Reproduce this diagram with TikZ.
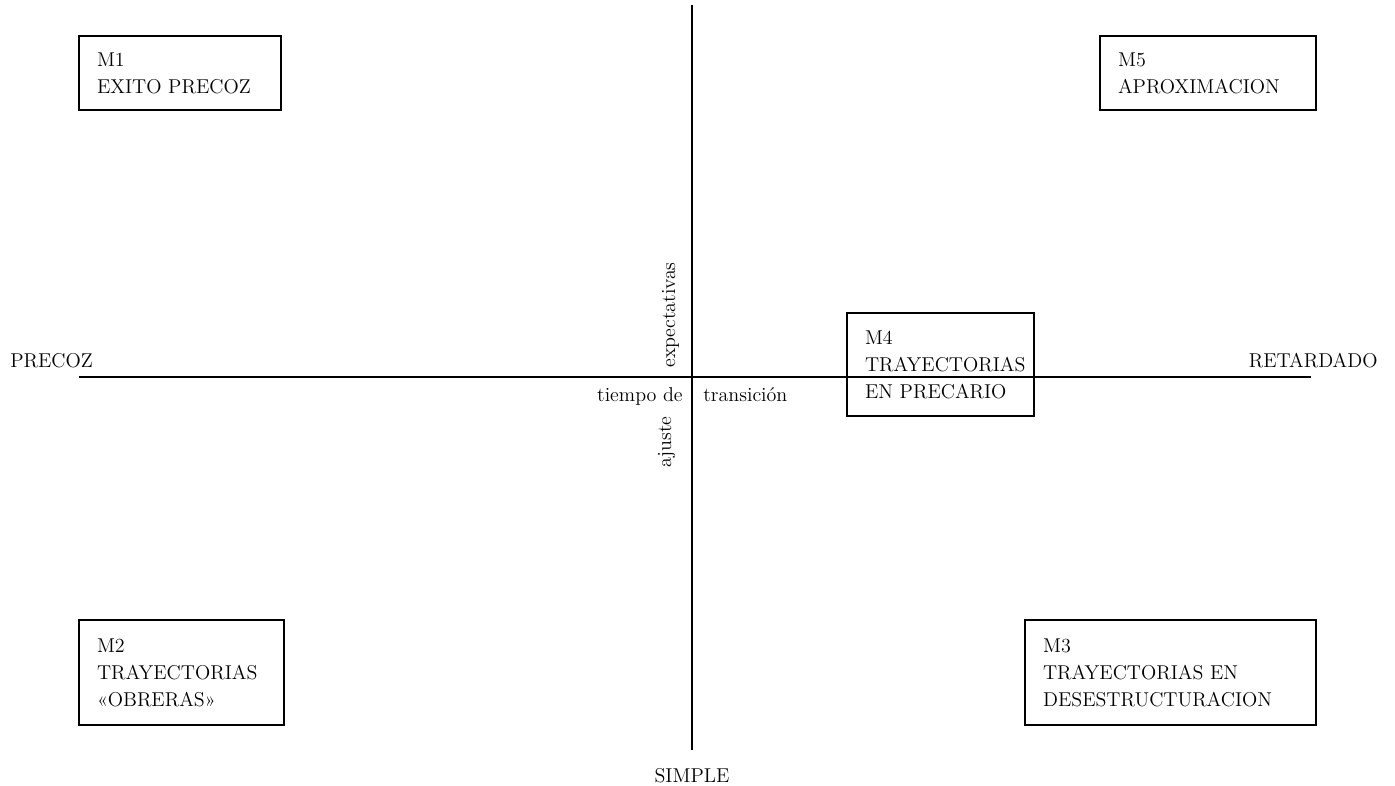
\documentclass[tikz,border=0pt]{standalone}
\usepackage{tikz}
\usetikzlibrary{calc}

\begin{document}
\begin{tikzpicture}[x=0.02cm, y=-0.02cm,
  every node/.style={font=\fontsize{11.4pt}{15.3pt}\selectfont},
  axis/.style={line width=0.65pt},
  box/.style={draw, line width=0.65pt, align=left, inner xsep=0.36cm, inner ysep=0pt}]

% Fix the page to the reference size
\useasboundingbox (0,0) rectangle (1395,786);

% Define ends of the two axes
\coordinate (top) at (692, 5);
\coordinate (bottom) at (692, 750);
\coordinate (left) at (79, 377);
\coordinate (right) at (1311, 377);

% Draw the axes
\draw[axis] (left) -- (right);
\draw[axis] (top) -- (bottom);

% Axis ends
\node[anchor=base west, inner xsep=0pt] (precoz) at (10, 368) {PRECOZ};
\node[anchor=base east, inner xsep=0pt] (retardado) at (1378, 368) {RETARDADO};
\node[anchor=base] (simple) at (692, 782) {SIMPLE};

% Labels near the centre
\node[anchor=base east, inner xsep=0pt] (tiempo) at (683, 402) {tiempo de};
\node[anchor=base west, inner xsep=0pt] (transicion) at (703, 402) {transición};
\node[rotate=90, anchor=base west, inner xsep=0pt] (expect) at (675, 368) {expectativas};
\node[rotate=90, anchor=base west, inner xsep=0pt] (ajuste) at (671, 468) {ajuste};

% Boxes M1 to M5
\node[box, text width=3.32cm, minimum height=1.48cm] (m1) at (180, 73)
  {M1\\EXITO PRECOZ};
\node[box, text width=3.6cm, minimum height=1.48cm] (m5) at (1208, 73)
  {M5\\APROXIMACION};
\node[box, text width=3.02cm, minimum height=2.06cm] (m4) at (940.5, 364.5)
  {M4\\TRAYECTORIAS\\EN PRECARIO};
\node[box, text width=3.38cm, minimum height=2.1cm] (m2) at (181.5, 672.5)
  {M2\\TRAYECTORIAS\\«OBRERAS»};
\node[box, text width=5.1cm, minimum height=2.1cm] (m3) at (1170.5, 672.5)
  {M3\\TRAYECTORIAS EN\\DESESTRUCTURACION};

\end{tikzpicture}
\end{document}
